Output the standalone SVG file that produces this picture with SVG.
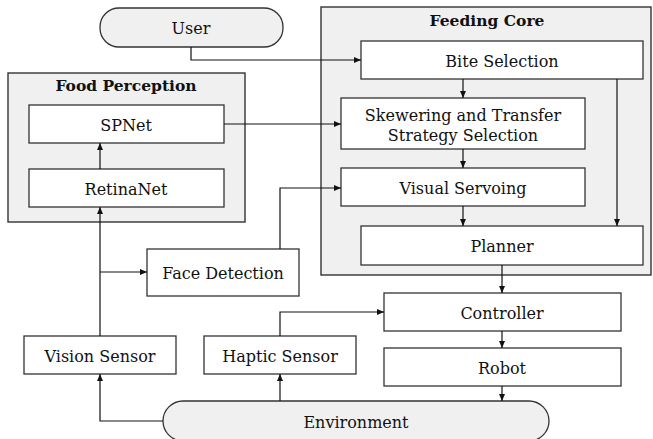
<svg xmlns="http://www.w3.org/2000/svg" width="653" height="439" viewBox="0 0 653 439">
  <defs>
    <marker id="arrow" markerWidth="7" markerHeight="6" refX="7" refY="3" orient="auto" markerUnits="userSpaceOnUse">
      <path d="M0,0 L7,3 L0,6 Z" fill="#111"/>
    </marker>
    <style>
      .group { fill: #f0f0f0; stroke: #333; stroke-width: 1.4; }
      .box { fill: #ffffff; stroke: #333; stroke-width: 1.3; }
      .pill { fill: #f0f0f0; stroke: #333; stroke-width: 1.3; }
      text { font-family: 'DejaVu Serif', 'Times New Roman', serif; font-size: 16px; fill: #111; text-anchor: middle; }
      .title { font-weight: bold; font-size: 15.5px; }
      .conn { fill: none; stroke: #111; stroke-width: 1.2; }
    </style>
  </defs>

  <rect width="653" height="439" fill="#ffffff"/>

  <!-- container groups -->
  <g id="food-perception">
    <rect class="group" x="8" y="73" width="237" height="149"/>
    <text class="title" x="126" y="90.5">Food Perception</text>
  </g>
  <g id="feeding-core">
    <rect class="group" x="321" y="7" width="330" height="268"/>
    <text class="title" x="487" y="26">Feeding Core</text>
  </g>

  <!-- nodes -->
  <g id="user">
    <rect class="pill" x="100" y="8" width="183" height="39" rx="19" ry="19"/>
    <text x="191" y="34">User</text>
  </g>
  <g id="spnet">
    <rect class="box" x="29" y="105" width="195" height="38"/>
    <text x="126" y="130.5">SPNet</text>
  </g>
  <g id="retinanet">
    <rect class="box" x="29" y="169" width="195" height="38"/>
    <text x="126" y="194.5">RetinaNet</text>
  </g>
  <g id="bite-selection">
    <rect class="box" x="361" y="41" width="282" height="38"/>
    <text x="502" y="66.5">Bite Selection</text>
  </g>
  <g id="skewering">
    <rect class="box" x="341" y="98" width="244" height="51"/>
    <text x="463" y="120.5">Skewering and Transfer</text>
    <text x="463" y="141">Strategy Selection</text>
  </g>
  <g id="visual-servoing">
    <rect class="box" x="341" y="168" width="244" height="38"/>
    <text x="463" y="193.5">Visual Servoing</text>
  </g>
  <g id="planner">
    <rect class="box" x="361" y="226" width="282" height="39"/>
    <text x="502" y="252">Planner</text>
  </g>
  <g id="face-detection">
    <rect class="box" x="147" y="249" width="152" height="47"/>
    <text x="223" y="279">Face Detection</text>
  </g>
  <g id="controller">
    <rect class="box" x="384" y="293" width="237" height="38"/>
    <text x="502" y="318.5">Controller</text>
  </g>
  <g id="robot">
    <rect class="box" x="384" y="348" width="237" height="38"/>
    <text x="502" y="373.5">Robot</text>
  </g>
  <g id="vision-sensor">
    <rect class="box" x="24" y="336" width="152" height="38"/>
    <text x="100" y="361.5">Vision Sensor</text>
  </g>
  <g id="haptic-sensor">
    <rect class="box" x="204" y="336" width="152" height="38"/>
    <text x="280" y="361.5">Haptic Sensor</text>
  </g>
  <g id="environment">
    <rect class="pill" x="163" y="401" width="386" height="40" rx="20" ry="20"/>
    <text x="356" y="428">Environment</text>
  </g>

  <!-- connectors -->
  <g id="connectors">
    <path class="conn" d="M191,47 V60 H361" marker-end="url(#arrow)"/>
    <path class="conn" d="M224,124 H341" marker-end="url(#arrow)"/>
    <path class="conn" d="M100,169 V143" marker-end="url(#arrow)"/>
    <path class="conn" d="M463,79 V98" marker-end="url(#arrow)"/>
    <path class="conn" d="M463,149 V168" marker-end="url(#arrow)"/>
    <path class="conn" d="M463,206 V226" marker-end="url(#arrow)"/>
    <path class="conn" d="M617,79 V226" marker-end="url(#arrow)"/>
    <path class="conn" d="M280,249 V188 H341" marker-end="url(#arrow)"/>
    <path class="conn" d="M100,336 V207" marker-end="url(#arrow)"/>
    <path class="conn" d="M100,272 H147" marker-end="url(#arrow)"/>
    <path class="conn" d="M502,265 V293" marker-end="url(#arrow)"/>
    <path class="conn" d="M502,331 V348" marker-end="url(#arrow)"/>
    <path class="conn" d="M502,386 V401" marker-end="url(#arrow)"/>
    <path class="conn" d="M280,336 V312 H384" marker-end="url(#arrow)"/>
    <path class="conn" d="M163,421 H100 V374" marker-end="url(#arrow)"/>
    <path class="conn" d="M280,401 V374" marker-end="url(#arrow)"/>
  </g>
</svg>
